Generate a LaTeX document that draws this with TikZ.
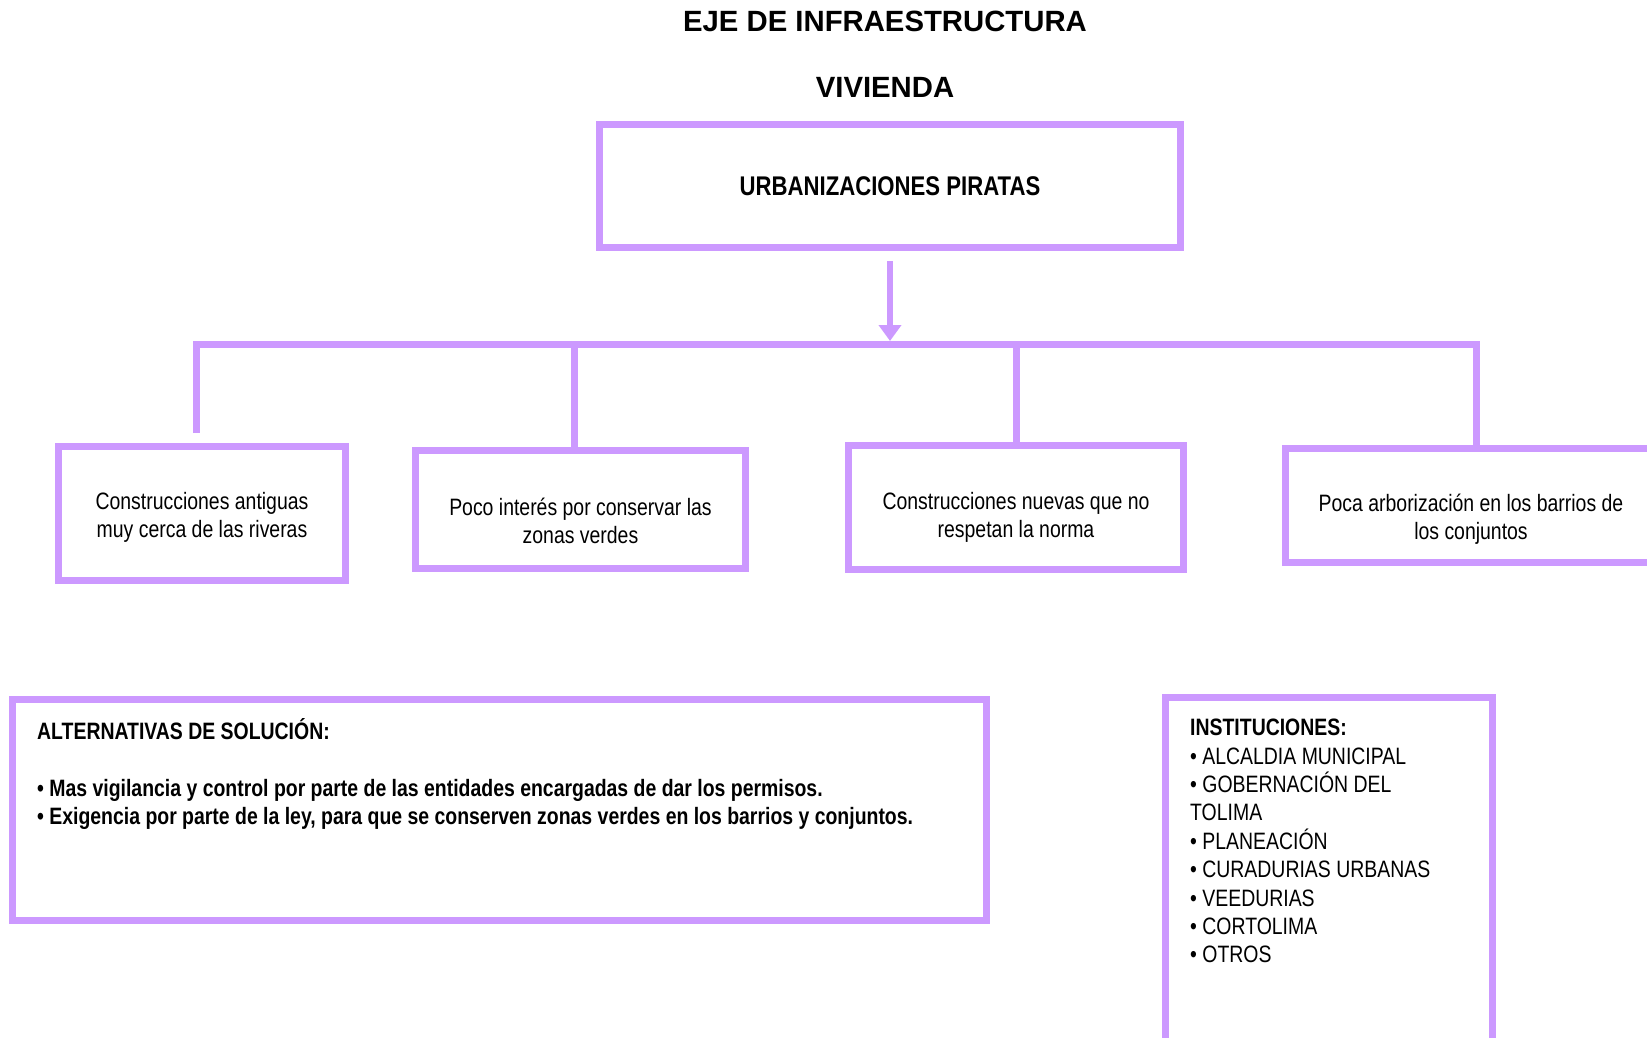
\documentclass[tikz,border=0pt]{standalone}
\usepackage{fontspec}
\setmainfont{Liberation Sans}
\newfontfamily\narrowfont[FakeStretch=0.82]{Liberation Sans}
\usetikzlibrary{arrows.meta,positioning}
\definecolor{lila}{RGB}{204,153,255}

\begin{document}
\begin{tikzpicture}[x=1pt,y=-1pt,>={Triangle[width=22pt,length=16pt]},
  caja/.style={draw=lila,line width=7pt,inner sep=0pt},
  txt/.style={font=\narrowfont\fontsize{23.7}{28.4}\selectfont,align=center},
  linea/.style={draw=lila,line width=7pt}]
\useasboundingbox (0,0) rectangle (1647,1037);

\node[font=\bfseries\fontsize{29.3}{34}\selectfont] (eje) at (885,21) {EJE DE INFRAESTRUCTURA};
\node[font=\bfseries\fontsize{29.3}{34}\selectfont] (viv) at (885,87) {VIVIENDA};
\node[caja,txt,font=\narrowfont\bfseries\fontsize{27}{32}\selectfont,minimum width=581pt,minimum height=123pt] (urb) at (890,186) {URBANIZACIONES PIRATAS};

% causas
\node[caja,minimum width=287pt,minimum height=134pt] (c1) at (202,513.5) {};
\node[caja,minimum width=330pt,minimum height=118pt] (c2) at (580.5,509) {};
\node[caja,minimum width=335pt,minimum height=124pt] (c3) at (1016,507.5) {};
\node[caja,minimum width=371pt,minimum height=114pt] (c4) at (1471,505.5) {};
\node[txt] (t1) at ([yshift=-4pt]c1.center) {Construcciones antiguas\\muy cerca de las riveras};
\node[txt] (t2) at ([yshift=-12pt]c2.center) {Poco interés por conservar las\\zonas verdes};
\node[txt] (t3) at ([yshift=-10pt]c3.center) {Construcciones nuevas que no\\respetan la norma};
\node[txt] (t4) at ([yshift=-14pt]c4.center) {Poca arborización en los barrios de\\los conjuntos};

\coordinate (bus) at (890,344);
\draw[linea] ([xshift=-6pt,yshift=10pt]c1.north) |- (bus) -| ([xshift=5pt]c4.north);
\draw[linea] ([xshift=-6pt]c2.north |- bus) -- ([xshift=-6pt]c2.north);
\draw[linea] (bus -| c3.north) -- (c3.north);
\draw[lila,line width=6pt,->] ([yshift=-10pt]urb.south) -- ([yshift=3pt]bus);

\node[caja,minimum width=974pt,minimum height=221pt] (alt) at (499,810) {};
\node[txt,align=left,anchor=north west,inner sep=0pt] (alttxt) at (37,718) {\bfseries ALTERNATIVAS DE SOLUCIÓN:\\[28.4pt]
\bfseries • Mas vigilancia y control por parte de las entidades encargadas de dar los permisos.\\
\bfseries • Exigencia por parte de la ley, para que se conserven zonas verdes en los barrios y conjuntos.};

\node[caja,minimum width=327pt,minimum height=350pt] (inst) at (1329,872) {};
\node[txt,align=left,anchor=north west,inner sep=0pt] (insttxt) at (1190,719) {\bfseries INSTITUCIONES:\\
• ALCALDIA MUNICIPAL\\
• GOBERNACIÓN DEL\\
TOLIMA\\
• PLANEACIÓN\\
• CURADURIAS URBANAS\\
• VEEDURIAS\\
• CORTOLIMA\\
• OTROS};
\end{tikzpicture}
\end{document}
